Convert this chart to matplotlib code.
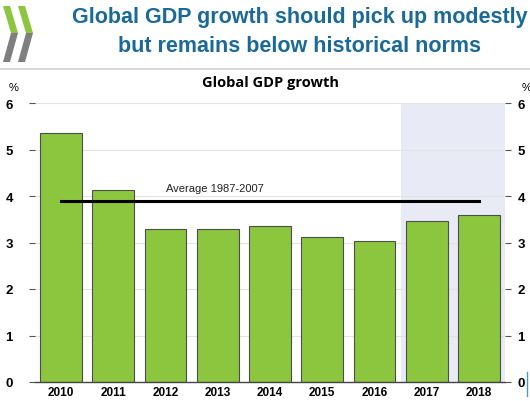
import numpy as np
import matplotlib
matplotlib.use("Agg")
import matplotlib.pyplot as plt
from matplotlib.patches import Polygon
from matplotlib.transforms import ScaledTranslation

# data
years = ["2010", "2011", "2012", "2013", "2014", "2015", "2016", "2017", "2018"]
growth = [5.35, 4.13, 3.28, 3.29, 3.35, 3.12, 3.03, 3.46, 3.59]
average_label = "Average 1987-2007"
average_value = 3.89
projection_start = 7  # index of first projected year

green = "#8cc63f"
header_blue = "#1a6a99"

fig = plt.figure(figsize=(5.30, 4.02), dpi=100)

# ----------------------------
# Header: logo, headline, rule
# ----------------------------
W, H = 530.0, 402.0
def fpt(x, y):
    return (x / W, 1 - y / H)

for dx in (0, 15):
    top = Polygon([fpt(3 + dx, 7), fpt(10 + dx, 7), fpt(18 + dx, 34), fpt(11 + dx, 34)],
                  closed=True, transform=fig.transFigure, color="#8cc63f", lw=0)
    bot = Polygon([fpt(11 + dx, 34), fpt(18 + dx, 34), fpt(10 + dx, 63), fpt(3 + dx, 63)],
                  closed=True, transform=fig.transFigure, color="#7f7f7f", lw=0)
    fig.patches.extend([top, bot])

fig.text(300 / W, 1 - 32 / H, "Global GDP growth should pick up modestly\nbut remains below historical norms",
         ha="center", va="center", fontsize=15.5, fontweight="bold", color=header_blue,
         family="Liberation Sans", linespacing=1.45)
fig.add_artist(plt.Line2D([0, 1], [1 - 70 / H] * 2, transform=fig.transFigure,
                          color="#d0d0d0", lw=1.2))
fig.add_artist(plt.Line2D([527 / W] * 2, [1 - 373 / H, 1 - 397 / H], transform=fig.transFigure,
                          color="#4a9bb5", lw=1))

# ----------------------------
# Chart
# ----------------------------
ax = fig.add_axes([35 / W, 19 / H, 470 / W, 279 / H])
x = np.arange(len(years))

ax.axvspan(projection_start - 0.5, len(years) - 0.5, color="#e8eaf5", lw=0, zorder=0)
ax.set_yticks(range(0, 7))
for yv in range(1, 7):
    ax.axhline(yv, color="#e3e3e3", lw=0.8, zorder=1)

ax.bar(x, growth, width=0.8, color=green, edgecolor="#4d4d4d", linewidth=0.8, zorder=2)
ax.plot([x[0], x[-1]], [average_value, average_value], color="black", lw=2.2, zorder=3)
ax.text(2.0, average_value + 0.17, average_label, fontsize=8, ha="left", va="bottom",
        family="Liberation Sans", color="#222222")

ax.set_xlim(-0.5, len(years) - 0.5)
ax.set_ylim(0, 6)
ax.set_xticks(x)
ax.set_xticklabels(years, fontsize=8.5, fontweight="bold", family="Liberation Sans")
ax.tick_params(axis="x", length=0, pad=3)
ax.tick_params(axis="y", length=4, color="#555555", labelsize=9.5, pad=12,
               left=True, right=True, labelleft=True, labelright=True)
for t in ax.yaxis.get_major_ticks():
    for lbl in (t.label1, t.label2):
        lbl.set_fontweight("bold")
        lbl.set_family("Liberation Sans")
    # right-side labels sit closer to the axis than the left ones
    t.label2.set_transform(t.label2.get_transform() + ScaledTranslation(-7 / 72, 0, fig.dpi_scale_trans))
for side in ("top", "left", "right"):
    ax.spines[side].set_visible(False)
ax.spines["bottom"].set_color("#444444")
ax.spines["bottom"].set_linewidth(1.0)

ax.text(-0.045, 1.045, "%", transform=ax.transAxes, fontsize=8, ha="center", family="Liberation Sans")
ax.text(1.045, 1.045, "%", transform=ax.transAxes, fontsize=8, ha="center", family="Liberation Sans")
ax.set_title("Global GDP growth", fontsize=10.5, fontweight="bold", family="Open Sans", pad=12)

fig.savefig("out.png", dpi=100)
